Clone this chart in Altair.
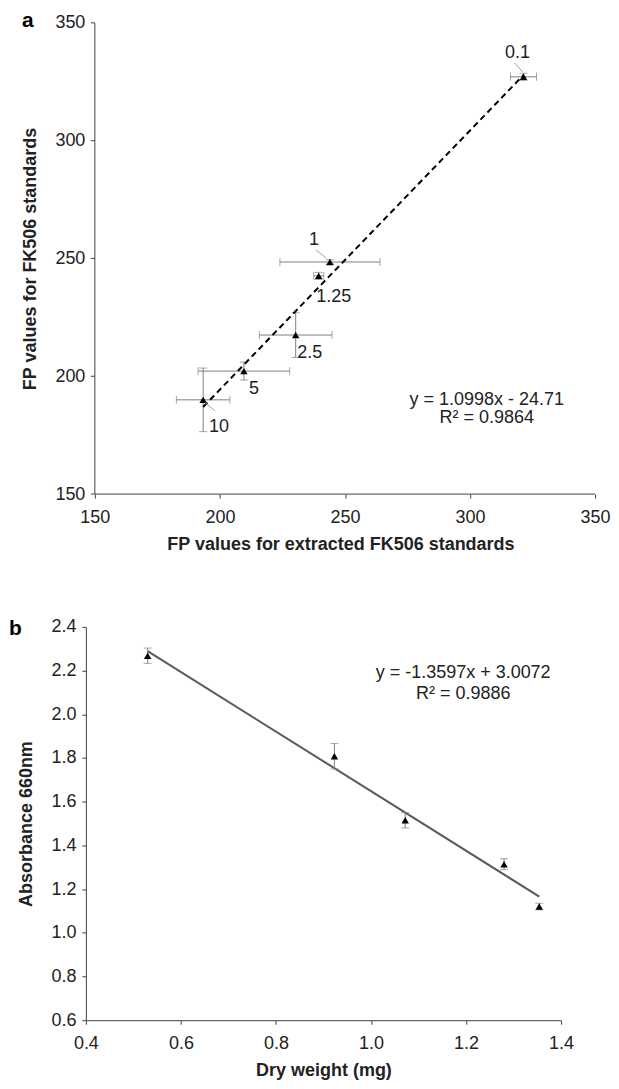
import altair as alt
import pandas as pd

FONT = "Liberation Sans"
INK = "#222222"
AXIS = "#404040"
ERR = "#808080"
FS = 18

# ---------------- Panel a data ----------------
a_labels = ["0.1", "1", "1.25", "2.5", "5", "10"]
a_x = [321.4, 244.0, 239.5, 230.3, 209.6, 193.3]
a_y = [327.1, 248.5, 242.6, 217.5, 202.2, 190.0]
a_xerr = [5.2, 20.0, 2.0, 14.5, 18.3, 10.7]
a_yerr = [1.5, 1.0, 1.5, 9.5, 3.8, 13.5]
a_eq = ["y = 1.0998x - 24.71", "R² = 0.9864"]
a_eq_x = [306.7, 306.7]
a_eq_y = [190.0, 182.2]
a_ticks = [150, 200, 250, 300, 350]

# ---------------- Panel b data ----------------
b_x = [0.530, 0.923, 1.072, 1.280, 1.354]
b_y = [2.268, 1.808, 1.515, 1.314, 1.120]
b_yerr = [0.035, 0.058, 0.035, 0.025, 0.015]
b_eq = ["y = -1.3597x + 3.0072", "R² = 0.9886"]
b_eq_x = [1.194, 1.194]
b_eq_y = [2.187, 2.092]
b_xticks = [0.4, 0.6, 0.8, 1.0, 1.2, 1.4]
b_yticks = [0.6, 0.8, 1.0, 1.2, 1.4, 1.6, 1.8, 2.0, 2.2, 2.4]

# ---------------- layout / style ----------------
A_W, A_H = 501, 472        # panel a axis length in px
A_SHIFT = 9                # panel a's y axis sits 9px right of panel b's
B_W, B_H = 476, 394

label_off = {"0.1": (-6, -24), "1": (-16, -22), "1.25": (15, 21),
             "2.5": (14, 18), "5": (10, 18), "10": (16, 27)}
leader_off = {"0.1": (-9, -14, -1, -5), "1": (-14, -12, -4, -4), "10": (2, 3, 12, 11)}

df_a = pd.DataFrame({"label": a_labels, "x": a_x, "y": a_y, "xerr": a_xerr, "yerr": a_yerr})
df_a["xlo"] = df_a["x"] - df_a["xerr"]
df_a["xhi"] = df_a["x"] + df_a["xerr"]
df_a["ylo"] = df_a["y"] - df_a["yerr"]
df_a["yhi"] = df_a["y"] + df_a["yerr"]
eq_a = pd.DataFrame({"text": a_eq, "x": a_eq_x, "y": a_eq_y})
ticks_a = pd.DataFrame({"v": a_ticks, "x0": [a_ticks[0]] * len(a_ticks)})
frame_a = pd.DataFrame({"x0": [a_ticks[0]], "x1": [a_ticks[-1]],
                        "y0": [a_ticks[0]], "y1": [a_ticks[-1]]})

df_b = pd.DataFrame({"x": b_x, "y": b_y, "yerr": b_yerr})
df_b["ylo"] = df_b["y"] - df_b["yerr"]
df_b["yhi"] = df_b["y"] + df_b["yerr"]
eq_b = pd.DataFrame({"text": b_eq, "x": b_eq_x, "y": b_eq_y})


def axis(values, title, fmt=None, pad=8, tpad=14, **extra):
    kw = dict(values=values, title=title, grid=False, domainColor=AXIS, tickColor=AXIS,
              tickSize=4, labelFont=FONT, labelFontSize=FS, labelColor=INK,
              labelPadding=pad, titleFont=FONT, titleFontSize=FS, titleFontWeight="bold",
              titleColor=INK, titlePadding=tpad, labelFlush=False, labelOverlap=False)
    kw.update(extra)
    if fmt:
        kw["format"] = fmt
    return alt.Axis(**kw)


# ---------------- Panel a ----------------
a_span = a_ticks[-1] - a_ticks[0]
xa = alt.Scale(domain=[a_ticks[0] - A_SHIFT * a_span / A_W, a_ticks[-1]], nice=False, zero=False)
ya = alt.Scale(domain=[a_ticks[0], a_ticks[-1]], nice=False, zero=False)
ax_xa = axis(a_ticks, "FP values for extracted FK506 standards", pad=10, tpad=10, domain=False)
ax_ya = axis(a_ticks, "FP values for FK506 standards", pad=1, tpad=15, domain=False, ticks=False)

base_a = alt.Chart(df_a)
X = lambda f, **k: alt.X(f, type="quantitative", scale=xa, axis=ax_xa, **k)
Y = lambda f, **k: alt.Y(f, type="quantitative", scale=ya, axis=ax_ya, **k)

a_layers = [
    # hand-drawn axis lines / y ticks (the y axis sits at x = 150)
    alt.Chart(frame_a).mark_rule(color=AXIS, strokeWidth=1).encode(x=X("x0"), x2="x1", y=Y("y0")),
    alt.Chart(frame_a).mark_rule(color=AXIS, strokeWidth=1).encode(x=X("x0"), y=Y("y0"), y2="y1"),
    alt.Chart(ticks_a).mark_rule(color=AXIS, strokeWidth=1, xOffset=-4)
        .encode(x=X("x0"), x2="x0", y=Y("v")),
    base_a.mark_rule(color=ERR, strokeWidth=1).encode(x=X("xlo"), x2="xhi", y=Y("y")),
    base_a.mark_tick(color=ERR, orient="vertical", size=8, thickness=1).encode(x=X("xlo"), y=Y("y")),
    base_a.mark_tick(color=ERR, orient="vertical", size=8, thickness=1).encode(x=X("xhi"), y=Y("y")),
    base_a.mark_rule(color=ERR, strokeWidth=1).encode(x=X("x"), y=Y("ylo"), y2="yhi"),
    base_a.mark_tick(color=ERR, orient="horizontal", size=8, thickness=1).encode(x=X("x"), y=Y("ylo")),
    base_a.mark_tick(color=ERR, orient="horizontal", size=8, thickness=1).encode(x=X("x"), y=Y("yhi")),
    base_a.transform_regression("x", "y").mark_line(color="black", strokeWidth=2, strokeDash=[6, 4])
        .encode(x=X("x"), y=Y("y")),
    base_a.mark_point(shape="triangle-up", filled=True, size=55, color="black", opacity=1)
        .encode(x=X("x"), y=Y("y")),
]
for lab, (dx, dy) in label_off.items():
    a_layers.append(
        base_a.transform_filter(alt.datum.label == lab)
        .mark_text(font=FONT, fontSize=FS, color=INK, dx=dx, dy=dy, align="center", baseline="middle")
        .encode(x=X("x"), y=Y("y"), text="label:N"))
for lab, (x1, y1, x2, y2) in leader_off.items():
    a_layers.append(
        base_a.transform_filter(alt.datum.label == lab)
        .mark_rule(color="#a0a0a0", strokeWidth=1, xOffset=x1, yOffset=y1, x2Offset=x2, y2Offset=y2)
        .encode(x=X("x"), x2="x", y=Y("y"), y2="y"))
a_layers.append(
    alt.Chart(eq_a).mark_text(font=FONT, fontSize=FS, color=INK, align="center", baseline="middle")
    .encode(x=X("x"), y=Y("y"), text="text:N"))
a_layers.append(
    alt.Chart(pd.DataFrame({"t": ["a"]})).mark_text(font=FONT, fontSize=21, fontWeight="bold",
                                                      color="black", align="left", baseline="alphabetic")
    .encode(x=alt.value(-64), y=alt.value(4), text="t:N"))

chart_a = alt.layer(*a_layers).properties(width=A_W + A_SHIFT, height=A_H)

# ---------------- Panel b ----------------
xb = alt.Scale(domain=[b_xticks[0], b_xticks[-1]], nice=False, zero=False)
yb = alt.Scale(domain=[b_yticks[0], b_yticks[-1]], nice=False, zero=False)
ax_xb = axis(b_xticks, "Dry weight (mg)", fmt=".1f", pad=10, tpad=9)
ax_yb = axis(b_yticks, "Absorbance 660nm", fmt=".1f", pad=6, tpad=15)
XB = lambda f, **k: alt.X(f, type="quantitative", scale=xb, axis=ax_xb, **k)
YB = lambda f, **k: alt.Y(f, type="quantitative", scale=yb, axis=ax_yb, **k)
base_b = alt.Chart(df_b)

b_layers = [
    base_b.transform_regression("x", "y").mark_line(color="#595959", strokeWidth=2)
        .encode(x=XB("x"), y=YB("y")),
    base_b.mark_rule(color=ERR, strokeWidth=1).encode(x=XB("x"), y=YB("ylo"), y2="yhi"),
    base_b.mark_tick(color=ERR, orient="horizontal", size=8, thickness=1).encode(x=XB("x"), y=YB("ylo")),
    base_b.mark_tick(color=ERR, orient="horizontal", size=8, thickness=1).encode(x=XB("x"), y=YB("yhi")),
    base_b.mark_point(shape="triangle-up", filled=True, size=55, color="black", opacity=1)
        .encode(x=XB("x"), y=YB("y")),
    alt.Chart(eq_b).mark_text(font=FONT, fontSize=FS, color=INK, align="center", baseline="middle")
        .encode(x=XB("x"), y=YB("y"), text="text:N"),
    alt.Chart(pd.DataFrame({"t": ["b"]})).mark_text(font=FONT, fontSize=21, fontWeight="bold",
                                                      color="black", align="left", baseline="alphabetic")
        .encode(x=alt.value(-77), y=alt.value(8), text="t:N"),
]
chart_b = alt.layer(*b_layers).properties(width=B_W, height=B_H)

chart = alt.concat(chart_a, chart_b, columns=1, spacing=64).properties(
    padding={"left": 1, "top": 1, "right": 0, "bottom": 0}
).configure_view(stroke=None)

chart.save("out.html", embed_options={"renderer": "svg", "actions": False})
